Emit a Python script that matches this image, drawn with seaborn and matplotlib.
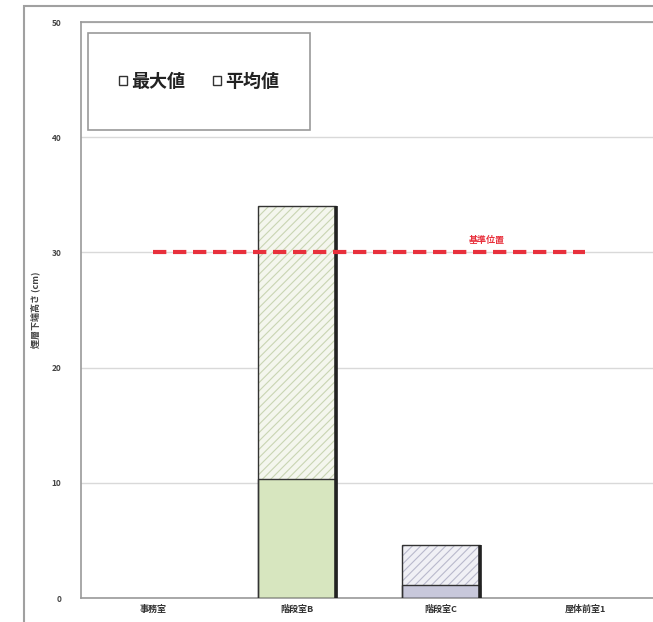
import matplotlib
matplotlib.use("Agg")
import matplotlib.pyplot as plt
from matplotlib.patches import Rectangle
import seaborn as sns
import pandas as pd

# 計測地点ごとの最大値・平均値
categories = ["事務室", "階段室B", "階段室C", "屋体前室1"]
max_values = [0.0, 34.0, 4.6, 0.0]
avg_values = [0.0, 10.3, 1.1, 0.0]
reference_level = 30.0
reference_label = "基準位置"
y_label = "煙層下端高さ (cm)"
y_ticks = [0, 10, 20, 30, 40, 50]

max_fill = ["#f4f6ee", "#f4f6ee", "#f0f0f5", "#f0f0f5"]
max_hatch = ["#c9d5b3", "#c9d5b3", "#b9b9cc", "#b9b9cc"]
avg_fill = ["#d7e6bf", "#d7e6bf", "#c8c8db", "#c8c8db"]

df = pd.DataFrame({"地点": categories, "最大値": max_values, "平均値": avg_values})

sns.set_theme(style="white")
plt.rcParams["font.family"] = ["Noto Sans CJK JP", "DejaVu Sans"]
plt.rcParams["hatch.linewidth"] = 0.8

fig = plt.figure(figsize=(6.53, 6.22), dpi=100)
ax = fig.add_axes([81 / 653, 24 / 622, 576 / 653, 576 / 622])

bar_w = 0.54
# 最大値（斜線）
sns.barplot(data=df, x="地点", y="最大値", hue="地点", palette=max_fill,
            legend=False, width=bar_w, ax=ax, linewidth=0, saturation=1, zorder=3)
max_patches = list(ax.patches)
for p, hc in zip(max_patches, max_hatch):
    p.set_hatch("////")
    p.set_edgecolor(hc)
    p.set_linewidth(0)

# 平均値（塗りつぶし）
sns.barplot(data=df, x="地点", y="平均値", hue="地点", palette=avg_fill,
            legend=False, width=bar_w, ax=ax, linewidth=0, saturation=1, zorder=4)
avg_patches = list(ax.patches)[len(max_patches):]

# 棒の輪郭と右側の影
for p in max_patches + avg_patches:
    if p.get_height() <= 0:
        continue
    x, y = p.get_x(), p.get_y()
    w, h = p.get_width(), p.get_height()
    ax.add_patch(Rectangle((x, y), w, h, fill=False, edgecolor="#333333",
                           linewidth=1.0, zorder=5))
for p in max_patches:
    if p.get_height() <= 0:
        continue
    x, w, h = p.get_x(), p.get_width(), p.get_height()
    ax.plot([x + w, x + w], [0, h], color="#222222", linewidth=2.6,
            solid_capstyle="butt", zorder=6)

# 基準線
ax.plot([0, 3], [reference_level, reference_level], color="#e8303c",
        linewidth=3, dashes=(3.2, 1.6), zorder=7)
ax.text(2.32, reference_level + 0.6, reference_label, color="#e8303c",
        fontsize=6.5, fontweight="bold", ha="center", va="bottom", zorder=7)

ax.set_xlim(-0.5, 3.5)
ax.set_ylim(0, 50)
ax.set_yticks(y_ticks)
ax.set_yticklabels([str(t) for t in y_ticks], fontsize=6, color="#444444",
                   fontweight="bold")
ax.tick_params(axis="y", length=4, width=0.8, color="#999999", pad=10)
ax.tick_params(axis="x", length=0, pad=5, labelsize=6.5, labelcolor="#333333")
for lbl in ax.get_xticklabels():
    lbl.set_fontweight("bold")
ax.set_xlabel("")
ax.set_ylabel(y_label, fontsize=6.5, color="#444444", labelpad=8,
              fontweight="bold")
ax.yaxis.grid(True, color="#d9d9d9", linewidth=1.0)
ax.set_axisbelow(True)
for side in ["left", "top", "bottom", "right"]:
    ax.spines[side].set_visible(True)
    ax.spines[side].set_color("#9a9a9a")
    ax.spines[side].set_linewidth(1.2)

# 凡例枠
ax.add_patch(Rectangle((0.012, 0.8125), 0.386, 0.1685, transform=ax.transAxes,
                       fill=True, facecolor="white", edgecolor="#9a9a9a",
                       linewidth=1.2, zorder=8))
handles = [Rectangle((0, 0), 1, 1, facecolor="white", edgecolor="#333333", linewidth=1.0),
           Rectangle((0, 0), 1, 1, facecolor="white", edgecolor="#333333", linewidth=1.0)]
leg = ax.legend(handles, ["最大値", "平均値"], loc="center",
                bbox_to_anchor=(0.205, 0.897), ncol=2, frameon=False,
                prop={"size": 13, "weight": "bold"},
                handlelength=0.45, handleheight=0.45,
                handletextpad=0.25, columnspacing=1.5)
leg.set_zorder(9)
for t in leg.get_texts():
    t.set_color("#222222")

# 外枠
fig.add_artist(Rectangle((24 / 653, -0.02), 1.0, 1 - 6 / 622 + 0.02,
                         transform=fig.transFigure, fill=False,
                         edgecolor="#a0a0a0", linewidth=1.5))

fig.savefig("out.png", dpi=100, facecolor="white")
